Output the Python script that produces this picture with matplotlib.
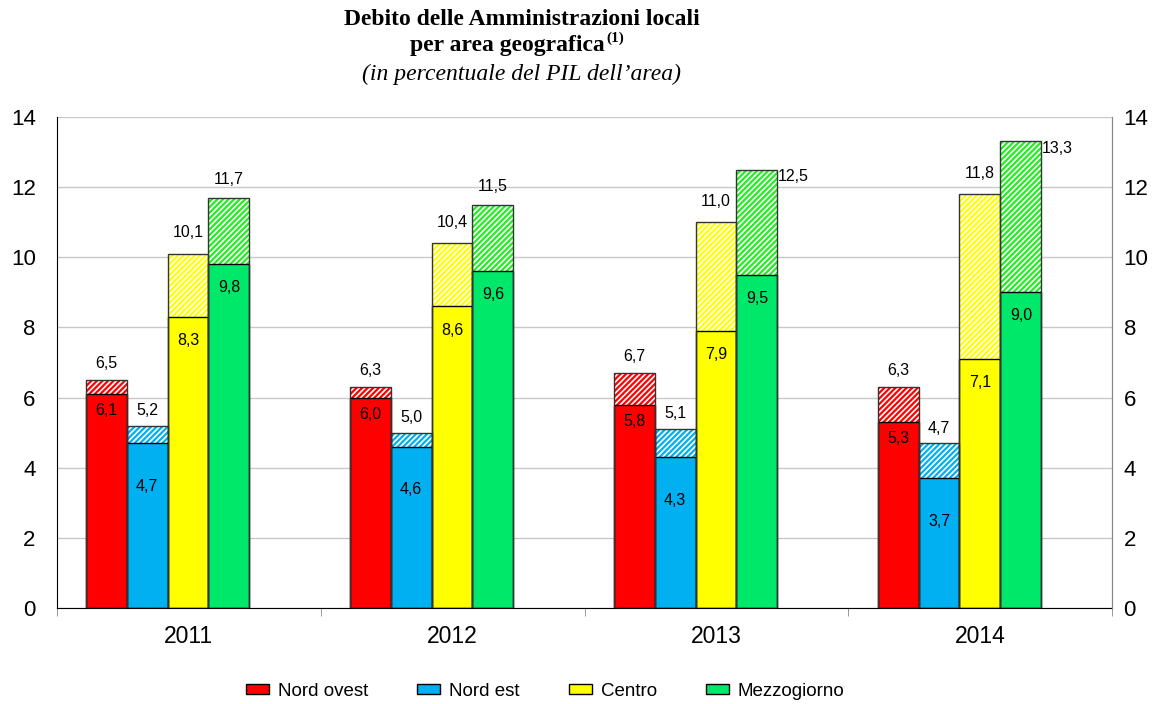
import numpy as np
import matplotlib.pyplot as plt

years = ['2011', '2012', '2013', '2014']
series = ['Nord ovest', 'Nord est', 'Centro', 'Mezzogiorno']
colors = ['#FF0000', '#00B0F0', '#FFFF00', '#00E86A']
hatch_colors = ['#FF0000', '#00B0F0', '#FFFF00', '#22EE22']

# solid part and total (solid + hatched) for each area, by year
inner = np.array([
    [6.1, 6.0, 5.8, 5.3],
    [4.7, 4.6, 4.3, 3.7],
    [8.3, 8.6, 7.9, 7.1],
    [9.8, 9.6, 9.5, 9.0],
])
total = np.array([
    [6.5, 6.3, 6.7, 6.3],
    [5.2, 5.0, 5.1, 4.7],
    [10.1, 10.4, 11.0, 11.8],
    [11.7, 11.5, 12.5, 13.3],
])

plt.rcParams['font.family'] = ['Liberation Sans', 'DejaVu Sans']
plt.rcParams['hatch.linewidth'] = 1.6

fig = plt.figure(figsize=(11.54, 7.04), dpi=100)
ax = fig.add_axes([0.049, 0.136, 0.915, 0.698])

x = np.arange(len(years))
w = 0.155
offsets = [-0.312, -0.157, -0.002, 0.153]
inner_off = [-12, -31, -17, -17]
outer_off = [12, 11, 15, 13]

for i in range(len(series)):
    xs = x + offsets[i]
    ax.bar(xs, total[i], w, color='white', edgecolor=hatch_colors[i], hatch='//////',
           linewidth=0, zorder=2)
    ax.bar(xs, total[i], w, fill=False, edgecolor='#333333', linewidth=1.0, zorder=4)
    ax.bar(xs, inner[i], w, color=colors[i], edgecolor='black', linewidth=1.0,
           label=series[i], zorder=3)
    for j in range(len(years)):
        ax.annotate(f'{inner[i][j]:.1f}'.replace('.', ','), (xs[j], inner[i][j]),
                    xytext=(0, inner_off[i]), textcoords='offset points',
                    ha='center', va='center', fontsize=11.5, zorder=5)
        lab = f'{total[i][j]:.1f}'.replace('.', ',')
        if i == 3 and j >= 2:
            ax.annotate(lab, (xs[j] + w / 2, total[i][j]), xytext=(0, -5),
                        textcoords='offset points', ha='left', va='center', fontsize=11.5)
        else:
            ax.annotate(lab, (xs[j], total[i][j]), xytext=(0, outer_off[i]),
                        textcoords='offset points', ha='center', va='center', fontsize=11.5)

ax.set_xlim(-0.5, 3.5)
ax.set_ylim(0, 14)
ax.set_yticks(np.arange(0, 15, 2))
ax.yaxis.grid(True, color='#C8C8C8', linewidth=1)
ax.set_axisbelow(True)
ax.tick_params(axis='y', length=0, labelsize=16, pad=15)
ax.set_xticks(x)
ax.set_xticklabels(years, fontsize=16.5)
ax.set_xticks(np.arange(-0.5, 4, 1), minor=True)
ax.tick_params(axis='x', which='major', length=0, pad=12)
ax.tick_params(axis='x', which='minor', length=6, color='#888888')
ax.spines['top'].set_visible(False)
ax.spines['right'].set_color('#888888')
ax.spines['left'].set_color('black')
ax.spines['bottom'].set_color('black')

ax2 = ax.twinx()
ax2.set_ylim(0, 14)
ax2.set_yticks(np.arange(0, 15, 2))
ax2.tick_params(axis='y', length=0, labelsize=16, pad=8)
for s in ['top', 'left', 'bottom']:
    ax2.spines[s].set_visible(False)
ax2.spines['right'].set_color('#888888')

fig.text(0.452, 0.972, 'Debito delle Amministrazioni locali', ha='center', va='center',
         fontsize=17, fontweight='bold', family='Liberation Serif')
t2 = fig.text(0.44, 0.936, 'per area geografica', ha='center', va='center',
              fontsize=17, fontweight='bold', family='Liberation Serif')
fig.canvas.draw()
bb = t2.get_window_extent()
fig.text(bb.x1 / fig.bbox.width + 0.001, 0.946, '(1)', ha='left', va='center',
         fontsize=11, fontweight='bold', family='Liberation Serif')
fig.text(0.452, 0.895, '(in percentuale del PIL dell\u2019area)', ha='center', va='center',
         fontsize=17, style='italic', family='Liberation Serif')

ax.legend(loc='center', bbox_to_anchor=(0.463, -0.169), ncol=4, frameon=False,
          fontsize=13.5, handlelength=1.23, handleheight=0.45, columnspacing=2.6,
          handletextpad=0.48)

fig.savefig('out.png', dpi=100)
